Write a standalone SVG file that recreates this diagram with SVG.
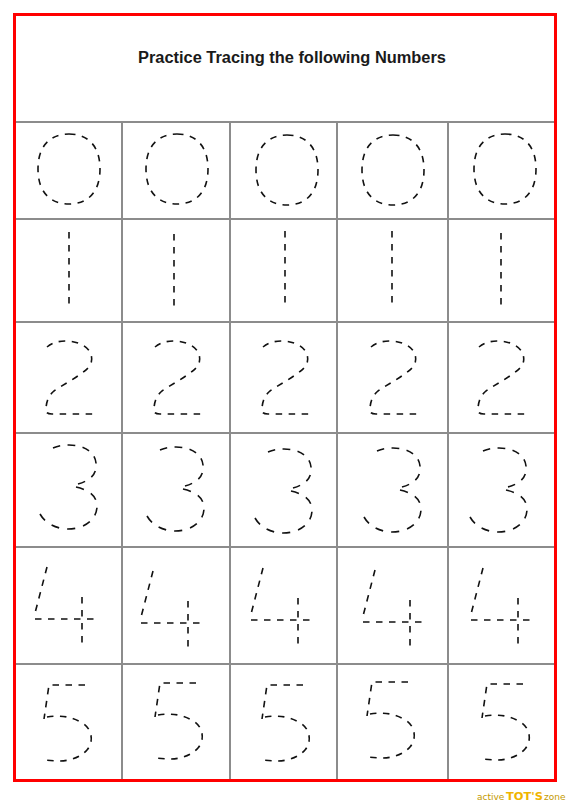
<svg xmlns="http://www.w3.org/2000/svg" xmlns:xlink="http://www.w3.org/1999/xlink" width="569" height="801" viewBox="0 0 569 801">
  <style>
    .grid { stroke: #8c8c8c; stroke-width: 2; fill: none; }
    .frame { stroke: #ff0000; stroke-width: 3; fill: none; }
    .trace { stroke: #111111; stroke-width: 1.6; fill: none; stroke-dasharray: 6.5 6.5; stroke-linecap: butt; }
    .title { font-family: "Liberation Sans", Arial, sans-serif; font-size: 16px; font-weight: bold; fill: #1a1a1a; }
    .logo-s { font-family: "DejaVu Sans", Verdana, sans-serif; font-size: 9px; fill: #c49a00; }
    .logo-b { font-family: "DejaVu Sans", Verdana, sans-serif; font-size: 10.5px; font-weight: bold; fill: #f0b400; }
  </style>
  <defs>
    <path id="d0" class="trace" d="M55,12 C74,12 86,24 86,47 C86,70 74,82 55,82 C36,82 24,70 24,47 C24,24 36,12 55,12 Z"/>
    <path id="d1" class="trace" d="M55,13 L55,89"/>
    <path id="d2" class="trace" d="M33,25 C38,21 44,19 51,19 C62,19 72,23 76,30 C79,36 78,42 74,46 C66,54 50,62 40,69 C34,74 32,81 32,88 C32,91 34,92 38,92 L80,92"/>
    <g id="d3">
      <path class="trace" pathLength="71.5" d="M39,15 C44,13 49,12 55,12 C70,12 81,19 82,30 C83,40 78,47 64,51"/>
      <path class="trace" pathLength="84.5" d="M62,54 C76,57 83,64 83,73 C83,87 70,96 54,96 C42,96 31,90 26,81"/>
    </g>
    <path id="d4" class="trace" d="M33,20 L20,70 M21,72 L85,72 M68,50 L68,100"/>
    <path id="d5" class="trace" d="M71,21 L35,21 L30,55 M33,53 C45,51 58,52 70,60 C78,66 80,78 73,86 C66,94 55,97 44,97 L28,96"/>
  </defs>

  <rect x="0" y="0" width="569" height="801" fill="#ffffff"/>

  <g id="title">
    <text class="title" x="292" y="63" text-anchor="middle" textLength="308" lengthAdjust="spacingAndGlyphs">Practice Tracing the following Numbers</text>
  </g>

  <g id="connectors">
    <g id="grid-lines">
      <line class="grid" x1="14" y1="122" x2="555" y2="122"/>
      <line class="grid" x1="14" y1="219" x2="555" y2="219"/>
      <line class="grid" x1="14" y1="322" x2="555" y2="322"/>
      <line class="grid" x1="14" y1="433" x2="555" y2="433"/>
      <line class="grid" x1="14" y1="547" x2="555" y2="547"/>
      <line class="grid" x1="14" y1="664" x2="555" y2="664"/>
      <line class="grid" x1="122" y1="122" x2="122" y2="780"/>
      <line class="grid" x1="230" y1="122" x2="230" y2="780"/>
      <line class="grid" x1="337" y1="122" x2="337" y2="780"/>
      <line class="grid" x1="448" y1="122" x2="448" y2="780"/>
    </g>
    <rect id="frame" class="frame" x="14.5" y="14.5" width="541" height="766"/>
  </g>

  <g id="row-0">
    <g id="cell-0-1"><use href="#d0" xlink:href="#d0" transform="translate(14,122)"/></g>
    <g id="cell-0-2"><use href="#d0" xlink:href="#d0" transform="translate(122,122)"/></g>
    <g id="cell-0-3"><use href="#d0" xlink:href="#d0" transform="translate(232,123)"/></g>
    <g id="cell-0-4"><use href="#d0" xlink:href="#d0" transform="translate(338,123)"/></g>
    <g id="cell-0-5"><use href="#d0" xlink:href="#d0" transform="translate(450,122)"/></g>
  </g>

  <g id="row-1">
    <g id="cell-1-1"><use href="#d1" xlink:href="#d1" transform="translate(14,219)"/></g>
    <g id="cell-1-2"><use href="#d1" xlink:href="#d1" transform="translate(119,221)"/></g>
    <g id="cell-1-3"><use href="#d1" xlink:href="#d1" transform="translate(230,218)"/></g>
    <g id="cell-1-4"><use href="#d1" xlink:href="#d1" transform="translate(337,218)"/></g>
    <g id="cell-1-5"><use href="#d1" xlink:href="#d1" transform="translate(446,220)"/></g>
  </g>

  <g id="row-2">
    <g id="cell-2-1"><use href="#d2" xlink:href="#d2" transform="translate(14,322)"/></g>
    <g id="cell-2-2"><use href="#d2" xlink:href="#d2" transform="translate(122,322)"/></g>
    <g id="cell-2-3"><use href="#d2" xlink:href="#d2" transform="translate(230,322)"/></g>
    <g id="cell-2-4"><use href="#d2" xlink:href="#d2" transform="translate(338,322)"/></g>
    <g id="cell-2-5"><use href="#d2" xlink:href="#d2" transform="translate(446,322)"/></g>
  </g>

  <g id="row-3">
    <g id="cell-3-1"><use href="#d3" xlink:href="#d3" transform="translate(14,433)"/></g>
    <g id="cell-3-2"><use href="#d3" xlink:href="#d3" transform="translate(121,435)"/></g>
    <g id="cell-3-3"><use href="#d3" xlink:href="#d3" transform="translate(229,437)"/></g>
    <g id="cell-3-4"><use href="#d3" xlink:href="#d3" transform="translate(338,436)"/></g>
    <g id="cell-3-5"><use href="#d3" xlink:href="#d3" transform="translate(444,436)"/></g>
  </g>

  <g id="row-4">
    <g id="cell-4-1"><use href="#d4" xlink:href="#d4" transform="translate(14,547)"/></g>
    <g id="cell-4-2"><use href="#d4" xlink:href="#d4" transform="translate(120,551)"/></g>
    <g id="cell-4-3"><use href="#d4" xlink:href="#d4" transform="translate(230,548)"/></g>
    <g id="cell-4-4"><use href="#d4" xlink:href="#d4" transform="translate(342,550)"/></g>
    <g id="cell-4-5"><use href="#d4" xlink:href="#d4" transform="translate(450,548)"/></g>
  </g>

  <g id="row-5">
    <g id="cell-5-1"><use href="#d5" xlink:href="#d5" transform="translate(14,664)"/></g>
    <g id="cell-5-2"><use href="#d5" xlink:href="#d5" transform="translate(125,662)"/></g>
    <g id="cell-5-3"><use href="#d5" xlink:href="#d5" transform="translate(232,664)"/></g>
    <g id="cell-5-4"><use href="#d5" xlink:href="#d5" transform="translate(337,661)"/></g>
    <g id="cell-5-5"><use href="#d5" xlink:href="#d5" transform="translate(452,663)"/></g>
  </g>

  <g id="logo">
    <text class="logo-s" x="477" y="800">active</text>
    <text class="logo-b" x="506" y="800" textLength="37" lengthAdjust="spacingAndGlyphs">TOT'S</text>
    <text class="logo-s" x="544" y="800">zone</text>
  </g>
</svg>
